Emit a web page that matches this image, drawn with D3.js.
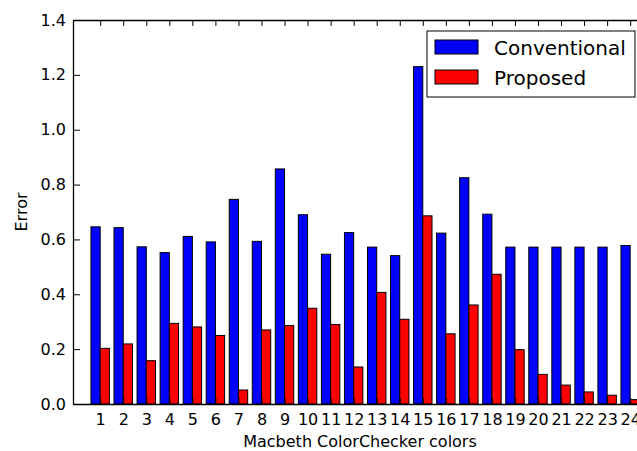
<!DOCTYPE html>
<html lang="en">
<head>
  <meta charset="UTF-8" />
  <title>Macbeth ColorChecker error</title>
  <script src="https://d3js.org/d3.v7.min.js"></script>
  <style>
    body {margin: 0; background: #fff;}
    svg {display: block; font-family: "DejaVu Sans", sans-serif;}
  </style>
</head>
<body>
<script>
  // ****DATA****
  const colors = d3.range(1, 25).map(String);
  const conventional = [0.646, 0.643, 0.573, 0.552, 0.611, 0.591, 0.746, 0.593, 0.857, 0.690,
                        0.546, 0.625, 0.572, 0.541, 1.230, 0.623, 0.825, 0.692, 0.572, 0.572,
                        0.572, 0.572, 0.572, 0.578];
  const proposed = [0.203, 0.219, 0.158, 0.294, 0.281, 0.250, 0.051, 0.270, 0.286, 0.349,
                    0.290, 0.135, 0.407, 0.309, 0.686, 0.256, 0.361, 0.473, 0.198, 0.108,
                    0.069, 0.044, 0.032, 0.016];
  const yTicks = [0.0, 0.2, 0.4, 0.6, 0.8, 1.0, 1.2, 1.4];
  const seriesNames = ["Conventional", "Proposed"];

  const barWidth = 0.4;

  // ****SVG CANVAS****
  const width = 637, height = 451;
  const padLeft = 73, padRight = 647, padTop = 20, padBottom = 404;

  const svg = d3.select("body").append("svg")
                .attr("width", width)
                .attr("height", height);

  // ****SCALES****
  const xScale = d3.scaleLinear()
                   .domain([-0.78, 24.13])
                   .range([padLeft, padRight]);
  const yScale = d3.scaleLinear()
                   .domain([0, 1.4])
                   .range([padBottom, padTop]);
  const colorScale = d3.scaleOrdinal().domain(seriesNames).range(["#0000ff", "#ff0000"]);

  // ****BARS****
  const bars = svg.append("g");
  bars.selectAll(".conv")
      .data(conventional)
      .join("rect")
      .attr("class", "conv")
      .attr("x", (d, i) => xScale(i))
      .attr("width", xScale(barWidth) - xScale(0))
      .attr("y", d => yScale(d))
      .attr("height", d => yScale(0) - yScale(d))
      .attr("fill", colorScale("Conventional"))
      .attr("stroke", "#000")
      .attr("stroke-width", 1);

  bars.selectAll(".prop")
      .data(proposed)
      .join("rect")
      .attr("class", "prop")
      .attr("x", (d, i) => xScale(i + barWidth))
      .attr("width", xScale(barWidth) - xScale(0))
      .attr("y", d => yScale(d))
      .attr("height", d => yScale(0) - yScale(d))
      .attr("fill", colorScale("Proposed"))
      .attr("stroke", "#000")
      .attr("stroke-width", 1);

  // ****AXES (matplotlib classic: ticks inside, on all sides)****
  const tickPos = colors.map((c, i) => i + barWidth);

  const xAxis = d3.axisBottom(xScale)
                  .tickValues(tickPos)
                  .tickFormat((d, i) => colors[i])
                  .tickSizeInner(-6).tickSizeOuter(0).tickPadding(10);
  const xAxisTop = d3.axisTop(xScale)
                     .tickValues(tickPos)
                     .tickFormat("")
                     .tickSizeInner(-6).tickSizeOuter(0);
  const yAxis = d3.axisLeft(yScale)
                  .tickValues(yTicks)
                  .tickFormat(d3.format(".1f"))
                  .tickSizeInner(-7).tickSizeOuter(0).tickPadding(7);

  const gx = svg.append("g").attr("transform", `translate(0, ${padBottom})`).call(xAxis);
  const gxt = svg.append("g").attr("transform", `translate(0, ${padTop})`).call(xAxisTop);
  const gy = svg.append("g").attr("transform", `translate(${padLeft}, 0)`).call(yAxis);

  [gx, gxt, gy].forEach(g => {
    g.select(".domain").attr("stroke", "#000").attr("stroke-width", 1.3);
    g.selectAll(".tick line").attr("stroke", "#000").attr("stroke-width", 1);
    g.selectAll(".tick text").attr("fill", "#000").attr("font-size", 16)
     .attr("font-family", "DejaVu Sans, sans-serif");
  });
  gx.selectAll(".tick text").attr("dy", "0.71em");

  // ****AXIS LABELS****
  svg.append("text")
     .attr("x", (padLeft + padRight) / 2)
     .attr("y", 447)
     .attr("text-anchor", "middle")
     .attr("font-size", 16)
     .text("Macbeth ColorChecker colors");

  svg.append("text")
     .attr("transform", `translate(27, ${(padTop + padBottom) / 2}) rotate(-90)`)
     .attr("text-anchor", "middle")
     .attr("font-size", 16)
     .text("Error");

  // ****LEGEND****
  const legend = svg.append("g").attr("transform", "translate(427, 31)");
  legend.append("rect")
        .attr("width", 208).attr("height", 66)
        .attr("fill", "#fff").attr("stroke", "#000").attr("stroke-width", 1);

  const items = legend.selectAll(".legend-item")
                      .data(seriesNames)
                      .join("g")
                      .attr("class", "legend-item")
                      .attr("transform", (d, i) => `translate(8, ${9 + i * 30})`);
  items.append("rect")
       .attr("width", 43).attr("height", 14)
       .attr("fill", d => colorScale(d))
       .attr("stroke", "#000").attr("stroke-width", 1);
  items.append("text")
       .attr("x", 59).attr("y", 15)
       .attr("font-size", 20)
       .text(d => d);
</script>
</body>
</html>
